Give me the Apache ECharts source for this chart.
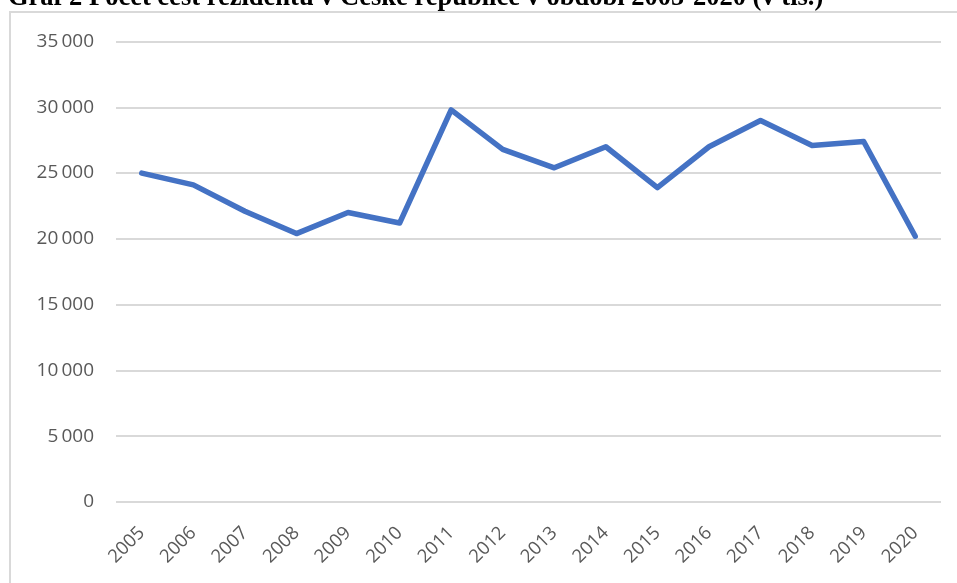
<!DOCTYPE html>
<html>
<head>
<meta charset="utf-8">
<script src="https://cdn.jsdelivr.net/npm/echarts@6/dist/echarts.min.js"></script>
<style>
  html, body { margin: 0; padding: 0; background: #fff; }
  #chart { width: 957px; height: 583px; }
</style>
</head>
<body>
<div id="chart"></div>
<script>
const titleText = 'Graf 2 Počet cest rezidentů v České republice v období 2005-2020 (v tis.)';

const years = ['2005', '2006', '2007', '2008', '2009', '2010', '2011', '2012',
  '2013', '2014', '2015', '2016', '2017', '2018', '2019', '2020'];

// počet cest (tis.)
const trips = [25000, 24100, 22100, 20400, 22000, 21200, 29800, 26800,
  25400, 27000, 23900, 27000, 29000, 27100, 27400, 20200];

const yTicks = { min: 0, max: 35000, step: 5000 };

const chart = echarts.init(document.getElementById('chart'));

chart.setOption({
  animation: false,
  graphic: [
    {
      type: 'rect',
      z: -1,
      shape: { x: 10, y: 12, width: 960, height: 600 },
      style: { fill: 'none', stroke: '#d9d9d9', lineWidth: 2 }
    },
    {
      type: 'text',
      left: 8,
      top: -15,
      style: {
        text: titleText,
        font: 'bold 26.5px "Liberation Serif"',
        fill: '#000'
      }
    }
  ],
  grid: {
    left: 116,
    right: 16,
    top: 41.5,
    bottom: 81
  },
  xAxis: {
    type: 'category',
    data: years,
    boundaryGap: true,
    axisLine: { show: false },
    axisTick: { show: false },
    axisLabel: {
      rotate: 45,
      margin: 28,
      color: '#595959',
      fontSize: 18.5,
      fontFamily: 'Open Sans'
    }
  },
  yAxis: {
    type: 'value',
    min: yTicks.min,
    max: yTicks.max,
    interval: yTicks.step,
    axisLine: { show: false },
    axisTick: { show: false },
    splitLine: { lineStyle: { color: '#d9d9d9', width: 2 } },
    axisLabel: {
      margin: 22,
      color: '#595959',
      fontSize: 19,
      fontFamily: 'Open Sans',
      formatter: v => String(v).replace(/\B(?=(\d{3})+$)/g, '\u2009')
    }
  },
  series: [
    {
      type: 'line',
      data: trips,
      symbol: 'none',
      lineStyle: { color: '#4472c4', width: 5.5, join: 'round', cap: 'round' }
    }
  ]
});
</script>
</body>
</html>
